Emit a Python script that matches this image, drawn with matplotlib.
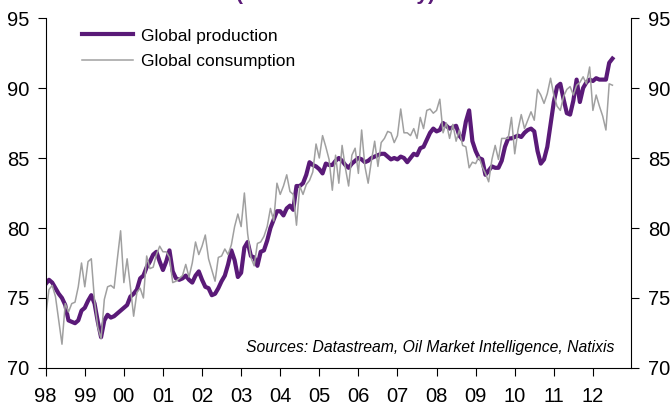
import matplotlib.pyplot as plt
import numpy as np

plt.rcParams['font.family'] = ['Liberation Sans', 'DejaVu Sans']

years = ["98", "99", "00", "01", "02", "03", "04", "05", "06", "07", "08", "09", "10", "11", "12"]

# monthly values, Jan 1998 .. Jul 2012 (mb/d)
production = [
    76.0, 76.3, 76.1, 75.7, 75.3, 75.0, 74.5, 73.4, 73.3, 73.2, 73.4, 74.1,  # 98
    74.3, 74.8, 75.2, 74.6, 73.3, 72.2, 73.4, 73.8, 73.6, 73.7, 73.9, 74.1,  # 99
    74.3, 74.5, 75.1, 75.3, 75.6, 76.4, 76.6, 77.2, 77.6, 78.1, 78.3, 77.6,  # 00
    77.0, 77.6, 78.4, 76.9, 76.4, 76.3, 76.4, 76.6, 76.3, 76.1, 76.6, 76.9,  # 01
    76.3, 75.8, 75.7, 75.2, 75.3, 75.7, 76.2, 76.6, 77.4, 78.4, 77.7, 76.5,  # 02
    76.8, 78.6, 79.0, 78.0, 77.9, 77.3, 78.3, 78.4, 79.1, 80.0, 80.6, 81.2,  # 03
    81.2, 80.9, 81.4, 81.6, 81.3, 83.0, 83.0, 83.2, 83.8, 84.7, 84.5, 84.4,  # 04
    84.2, 83.9, 84.6, 84.5, 84.5, 84.8, 85.0, 84.8, 84.5, 84.3, 84.6, 84.8,  # 05
    85.0, 84.9, 84.7, 84.8, 85.0, 85.1, 85.2, 85.3, 85.3, 85.1, 84.9, 85.0,  # 06
    84.9, 85.1, 85.0, 84.7, 85.0, 85.3, 85.2, 85.7, 85.8, 86.3, 86.8, 87.1,  # 07
    86.9, 87.0, 87.5, 87.3, 87.1, 87.2, 87.3, 86.6, 86.3, 87.6, 88.4, 86.2,  # 08
    85.5, 85.0, 84.9, 83.8, 84.1, 84.4, 84.3, 84.3, 84.8, 85.8, 86.4, 86.4,  # 09
    86.5, 86.6, 86.5, 86.8, 87.0, 87.1, 86.9, 85.5, 84.6, 84.9, 85.8, 87.4,  # 10
    89.0, 90.1, 90.3, 89.2, 88.2, 88.1, 89.1, 90.6, 89.0, 90.0, 90.4, 90.6,  # 11
    90.5, 90.7, 90.6, 90.6, 90.6, 91.8, 92.1,                                # 12
]

consumption = [
    73.7, 75.6, 75.9, 75.1, 73.4, 71.7, 74.6, 74.0, 74.6, 74.7, 75.8, 77.5,  # 98
    75.8, 77.6, 77.8, 74.8, 72.9, 72.1, 74.9, 75.8, 75.9, 75.7, 77.8, 79.8,  # 99
    76.1, 77.8, 75.8, 73.7, 75.4, 75.7, 75.0, 78.0, 77.1, 77.2, 78.1, 78.7,  # 00
    78.3, 78.3, 77.9, 76.1, 76.2, 76.4, 76.6, 77.4, 76.5, 77.5, 79.0, 78.1,  # 01
    78.7, 79.5, 77.8, 77.0, 76.2, 77.9, 78.0, 78.5, 78.1, 78.8, 80.1, 81.0,  # 02
    80.1, 82.5, 79.6, 77.9, 77.3, 78.9, 79.0, 79.4, 80.1, 81.4, 80.5, 83.2,  # 03
    82.4, 83.0, 83.8, 82.6, 82.4, 80.2, 83.0, 82.4, 83.1, 83.4, 84.0, 86.0,  # 04
    85.0, 86.6, 85.8, 84.9, 82.7, 85.2, 83.2, 85.9, 84.3, 83.0, 85.2, 85.7,  # 05
    83.9, 87.0, 84.4, 83.2, 84.8, 86.2, 84.4, 86.1, 86.4, 86.9, 86.8, 86.1,  # 06
    86.6, 88.5, 86.8, 86.8, 86.6, 87.1, 86.4, 87.9, 87.1, 88.4, 88.5, 88.2,  # 07
    88.4, 89.2, 86.8, 87.5, 86.4, 87.4, 86.2, 87.0, 85.9, 85.8, 84.3, 84.7,  # 08
    84.6, 85.1, 84.4, 83.9, 83.3, 84.9, 85.9, 84.9, 86.4, 86.4, 86.4, 87.9,  # 09
    85.3, 87.0, 88.1, 87.1, 87.7, 88.3, 87.7, 89.9, 89.5, 88.9, 89.6, 90.7,  # 10
    89.5, 88.7, 88.4, 89.4, 89.9, 90.1, 89.5, 90.2, 90.4, 90.8, 90.3, 91.5,  # 11
    88.4, 89.5, 88.7, 88.0, 87.0, 90.3, 90.2,                                # 12
]

purple = "#5a1a78"
grey = "#a0a0a0"

fig = plt.figure(figsize=(6.71, 4.12), dpi=100)
ax = fig.add_axes([0.0681, 0.1068, 0.8723, 0.8495])

months = np.arange(len(production))
ax.plot(months, production, color=purple, lw=3.0, label="Global production", solid_joinstyle="round")
ax.plot(np.arange(len(consumption)), consumption, color=grey, lw=1.1, label="Global consumption")

ax.set_xlim(0, 179.7)
ax.set_ylim(70, 95)
ax.set_yticks([70, 75, 80, 85, 90, 95])
ax.set_xticks(np.arange(len(years)) * 12)
ax.set_xticklabels(years)

ax.spines["top"].set_visible(False)
for s in ["left", "right", "bottom"]:
    ax.spines[s].set_linewidth(0.8)
ax.tick_params(axis="y", which="both", direction="out", length=6, width=0.8,
               right=True, labelright=True, labelsize=14.5, pad=6)
ax.tick_params(axis="x", direction="out", length=6, width=0.8, labelsize=14.5, pad=8)

leg = ax.legend(loc="upper left", bbox_to_anchor=(0.036, 1.015), frameon=False,
                fontsize=12.5, handlelength=2.9, handletextpad=0.45, labelspacing=0.6)

ax.text(0.972, 0.058, "Sources: Datastream, Oil Market Intelligence, Natixis",
        transform=ax.transAxes, ha="right", va="center", fontsize=11.3, style="italic")

# title sits mostly above the picture, only its bottom shows
fig.text(0.5, 1.0, "(million barrels/day)", ha="center", va="baseline",
         color=purple, fontsize=15, fontweight="bold")

fig.savefig("out.png", dpi=100)
